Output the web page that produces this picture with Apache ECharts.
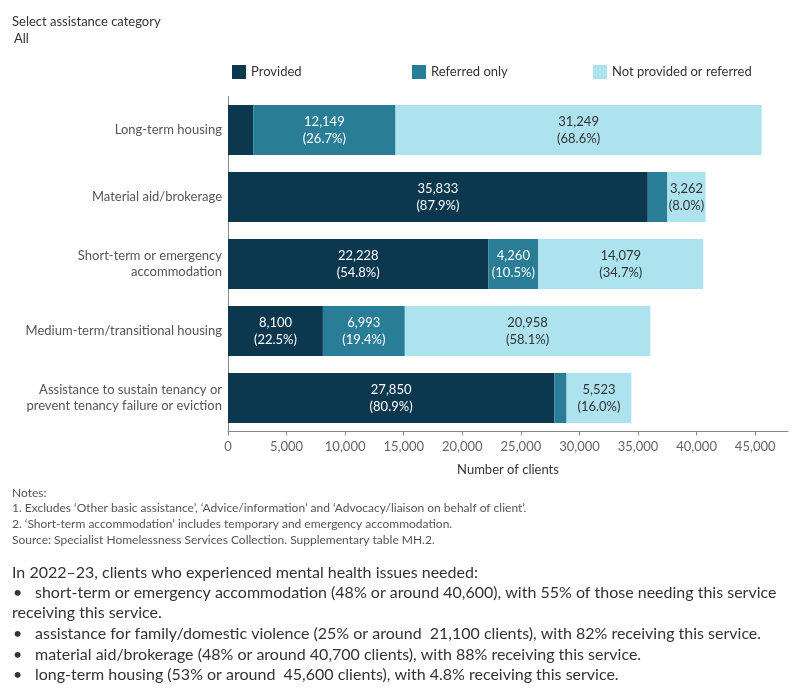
<!DOCTYPE html>
<html>
<head>
<meta charset="utf-8">
<script src="https://cdn.jsdelivr.net/npm/echarts@6/dist/echarts.min.js"></script>
<style>
html,body{margin:0;padding:0;background:#fff;}
#chart{width:800px;height:700px;}
</style>
</head>
<body>
<div id="chart"></div>
<script>
const categories = [
  'Long-term housing',
  'Material aid/brokerage',
  'Short-term or emergency\naccommodation',
  'Medium-term/transitional housing',
  'Assistance to sustain tenancy or\nprevent tenancy failure or eviction'
];
const seriesNames = ['Provided', 'Referred only', 'Not provided or referred'];
const provided = [2152, 35833, 22228, 8100, 27850];
const referredOnly = [12149, 1671, 4260, 6993, 1052];
const notProvided = [31249, 3262, 14079, 20958, 5523];
const xTicks = [0, 5000, 10000, 15000, 20000, 25000, 30000, 35000, 40000, 45000];
const colors = ['#0B374F', '#2A7D96', '#ADE3EE'];
const labelColors = ['#ffffff', '#ffffff', '#333333'];
const notes = [
  'Notes:',
  "1. Excludes \u2018Other basic assistance\u2019, \u2018Advice/information\u2019 and \u2018Advocacy/liaison on behalf of client\u2019.",
  "2. \u2018Short-term accommodation\u2019 includes temporary and emergency accommodation.",
  'Source: Specialist Homelessness Services Collection. Supplementary table MH.2.'
];
const summaryIntro = 'In 2022\u201323, clients who experienced mental health issues needed:';
const summaryLines = [
  {bullet: true, text: 'short-term or emergency accommodation (48% or around 40,600), with 55% of those needing this service'},
  {bullet: false, text: 'receiving this service.'},
  {bullet: true, text: 'assistance for family/domestic violence (25% or around  21,100 clients), with 82% receiving this service.'},
  {bullet: true, text: 'material aid/brokerage (48% or around 40,700 clients), with 88% receiving this service.'},
  {bullet: true, text: 'long-term housing (53% or around  45,600 clients), with 4.8% receiving this service.'}
];

const FONT = 'Lato';
const allData = [provided, referredOnly, notProvided];
const totals = categories.map((c, i) => provided[i] + referredOnly[i] + notProvided[i]);
const fmt = v => v.toLocaleString('en-US');

const chart = echarts.init(document.getElementById('chart'));

const series = seriesNames.map((name, s) => ({
  name: name,
  type: 'bar',
  stack: 'total',
  barWidth: 50,
  itemStyle: {color: colors[s]},
  emphasis: {disabled: true},
  label: {
    show: true,
    position: 'inside',
    color: labelColors[s],
    fontFamily: FONT,
    fontSize: 13,
    lineHeight: 17,
    formatter: p => {
      if (p.value < 3000) return '';
      const pct = (p.value / totals[p.dataIndex] * 100).toFixed(1);
      return fmt(p.value) + '\n(' + pct + '%)';
    }
  },
  data: allData[s]
}));

const legendLefts = [232, 412, 593];
const legends = seriesNames.map((name, i) => ({
  data: [name],
  left: legendLefts[i],
  top: 65,
  padding: 0,
  icon: 'rect',
  itemWidth: 14,
  itemHeight: 14,
  itemGap: 0,
  selectedMode: false,
  textStyle: {fontFamily: FONT, fontSize: 13, color: '#333'}
}));

const graphics = [];
graphics.push({type: 'text', left: 12, top: 15, style: {text: 'Select assistance category', font: '13px ' + FONT, fill: '#333'}});
graphics.push({type: 'text', left: 14, top: 32, style: {text: 'All', font: '13px ' + FONT, fill: '#333'}});
notes.forEach((t, i) => {
  graphics.push({type: 'text', left: 12, top: 487 + i * 15.6, style: {text: t, font: '12px ' + FONT, fill: '#555'}});
});
graphics.push({type: 'text', left: 12, top: 565, style: {text: summaryIntro, font: '16px ' + FONT, fill: '#333'}});
const lineY = [585, 605, 626, 647, 667];
summaryLines.forEach((l, i) => {
  if (l.bullet) {
    graphics.push({type: 'text', left: 13, top: lineY[i], style: {text: '\u2022', font: '16px ' + FONT, fill: '#333'}});
    graphics.push({type: 'text', left: 35, top: lineY[i], style: {text: l.text, font: '16px ' + FONT, fill: '#333'}});
  } else {
    graphics.push({type: 'text', left: 12, top: lineY[i], style: {text: l.text, font: '16px ' + FONT, fill: '#333'}});
  }
});

chart.setOption({
  animation: false,
  textStyle: {fontFamily: FONT},
  legend: legends,
  grid: {left: 228, right: 12, top: 96.5, height: 335, containLabel: false},
  xAxis: {
    type: 'value',
    min: 0,
    max: 47800,
    interval: 5000,
    name: 'Number of clients',
    nameLocation: 'middle',
    nameGap: 32,
    nameTextStyle: {fontFamily: FONT, fontSize: 13, color: '#333'},
    axisLine: {show: true, lineStyle: {color: '#888'}},
    axisTick: {show: true, length: 4, lineStyle: {color: '#888'}, customValues: xTicks},
    splitLine: {show: false},
    axisLabel: {
      customValues: xTicks,
      fontFamily: FONT, fontSize: 13, color: '#666', margin: 9,
      formatter: v => fmt(v)
    }
  },
  yAxis: {
    type: 'category',
    inverse: true,
    data: categories,
    axisLine: {show: true, lineStyle: {color: '#888'}},
    axisTick: {show: false},
    axisLabel: {fontFamily: FONT, fontSize: 13, color: '#555', margin: 6, lineHeight: 16, align: 'right'}
  },
  graphic: graphics,
  series: series
});
</script>
</body>
</html>
